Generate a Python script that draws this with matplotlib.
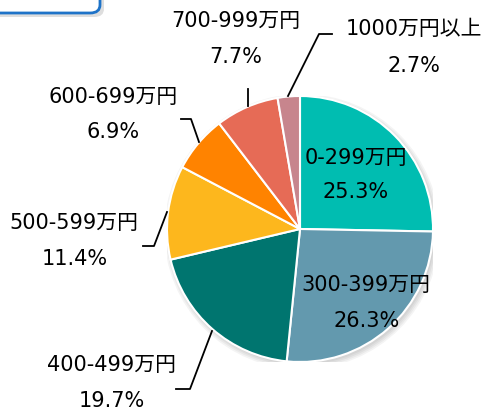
import numpy as np
import matplotlib.pyplot as plt
from matplotlib.patches import FancyBboxPatch, Circle

plt.rcParams['font.family'] = ['DejaVu Sans', 'Noto Sans CJK JP']

labels = ['0-299万円', '300-399万円', '400-499万円', '500-599万円',
          '600-699万円', '700-999万円', '1000万円以上']
shares = [25.3, 26.3, 19.7, 11.4, 6.9, 7.7, 2.7]
colors = ['#00BDB1', '#6399AE', '#00756F', '#FDB71D',
          '#FF8300', '#E66B56', '#C7858D']

# label centres in pixels (name, percent)
name_px = [(356, 158), (366, 285), (112, 365), (74, 223), (113, 97), (236, 21), (414, 29)]
pct_px = [(356, 192), (367, 321), (112, 401), (75, 259), (113, 132), (236, 57), (414, 66)]
# leader lines in pixels
leaders = [
    [(176, 390), (190, 390), (212, 332)],
    [(143, 247), (154, 247), (167, 213)],
    [(181, 120), (191, 120), (199, 143)],
    [(248, 90), (248, 107)],
    [(288, 97), (319, 35), (332, 35)],
]

W, H = 487, 410
cx, cy, r = 300, 230, 133

fig = plt.figure(figsize=(W / 100, H / 100), dpi=100)
ax = fig.add_axes([(cx - r) / W, (H - cy - r) / H, 2 * r / W, 2 * r / H])


def to_data(p):
    return (p[0] - cx) / r, (cy - p[1]) / r


# soft shadow behind the pie
for i in range(4):
    ax.add_patch(Circle((0.015, -0.02), 1.0 + 0.012 * i, color='black', alpha=0.045, lw=0, zorder=0))

ax.pie(shares, colors=colors, startangle=90, counterclock=False, radius=1.0,
       wedgeprops=dict(edgecolor='white', linewidth=1.5))
ax.set_xlim(-1, 1)
ax.set_ylim(-1, 1)
ax.set_aspect('auto')
ax.axis('off')

for name, v, p1, p2 in zip(labels, shares, name_px, pct_px):
    x, y = to_data(p1)
    ax.text(x, y, name, ha='center', va='center', fontsize=15, clip_on=False)
    x, y = to_data(p2)
    ax.text(x, y, f'{v:.1f}%', ha='center', va='center', fontsize=15, clip_on=False)

for line in leaders:
    pts = np.array([to_data(p) for p in line])
    ax.plot(pts[:, 0], pts[:, 1], color='black', lw=1.3, clip_on=False)

# cut-off title box in the corner
shadow = FancyBboxPatch((-30 / W + 4 / W, (H - 14) / H - 4 / H), 130 / W, 60 / H,
                        boxstyle='round,pad=0,rounding_size=0.02',
                        transform=fig.transFigure, fc='#c8c8c8', ec='none', alpha=0.6)
box = FancyBboxPatch((-30 / W, (H - 14) / H), 130 / W, 60 / H,
                     boxstyle='round,pad=0,rounding_size=0.02',
                     transform=fig.transFigure, fc='white', ec='#1E73C8', lw=2)
fig.patches.extend([shadow, box])

fig.savefig('out.png', dpi=100)
